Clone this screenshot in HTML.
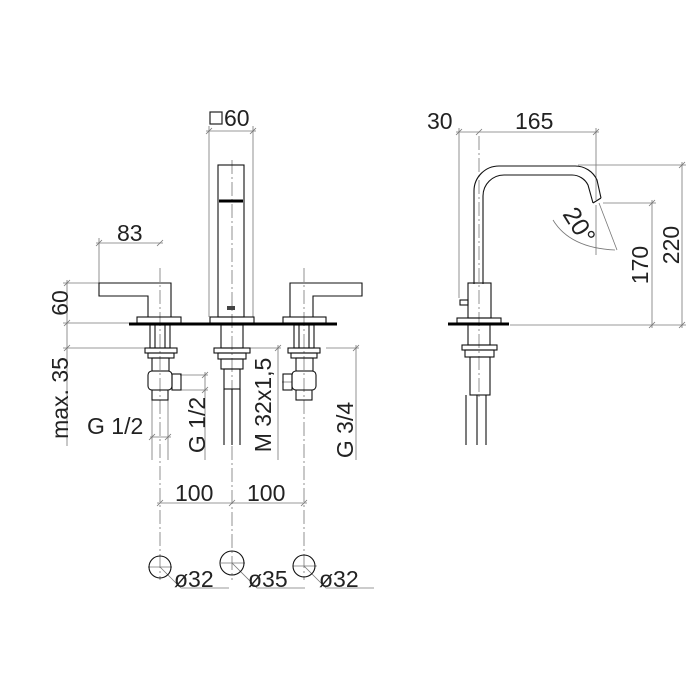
<!DOCTYPE html>
<html><head><meta charset="utf-8"><style>
html,body{margin:0;padding:0;background:#fff;}
svg{display:block}
text{font-family:"Liberation Sans",sans-serif;font-size:23px;fill:#222;}
</style></head><body>
<svg width="700" height="700" viewBox="0 0 700 700" xmlns="http://www.w3.org/2000/svg">
<g fill="none" stroke="#777" stroke-width="0.8">
 <line x1="96" y1="243" x2="163" y2="243"/>
 <line x1="99" y1="238" x2="99" y2="283"/>
 <line x1="206" y1="131" x2="256" y2="131"/>
 <line x1="209" y1="126" x2="209" y2="317"/>
 <line x1="253" y1="126" x2="253" y2="317"/>
 <line x1="67" y1="280" x2="67" y2="446"/>
 <line x1="63" y1="283" x2="99" y2="283"/>
 <line x1="63" y1="323" x2="129" y2="323"/>
 <line x1="63" y1="348" x2="146" y2="348"/>
 <line x1="150" y1="437" x2="171" y2="437"/>
 <line x1="152" y1="392" x2="152" y2="460"/>
 <line x1="168" y1="392" x2="168" y2="460"/>
 <line x1="180" y1="375" x2="208" y2="375"/>
 <line x1="180" y1="390" x2="208" y2="390"/>
 <line x1="205" y1="372" x2="205" y2="460"/>
 <line x1="250" y1="348" x2="281" y2="348"/>
 <line x1="278" y1="345" x2="278" y2="460"/>
 <line x1="326" y1="348" x2="359" y2="348"/>
 <line x1="356" y1="345" x2="356" y2="460"/>
 <line x1="282" y1="382" x2="292" y2="382"/>
 <line x1="157" y1="503" x2="307" y2="503"/>
 <path d="M96 246l6-6M157 246l6-6M206 134l6-6M250 134l6-6M64 286l6-6M64 326l6-6M64 351l6-6M149 440l6-6M165 440l6-6M202 378l6-6M202 393l6-6M275 351l6-6M353 351l6-6M157 506l6-6M229 506l6-6M301 506l6-6"/>
 <g stroke-dasharray="14,3,2,3">
  <line x1="160" y1="268" x2="160" y2="580"/>
  <line x1="232" y1="160" x2="232" y2="580"/>
  <line x1="304" y1="268" x2="304" y2="580"/>
  <line x1="479" y1="136" x2="479" y2="400"/>
 </g>
 <path d="M148 567h24M221 563h24M293 566h24"/>
 <path d="M160 567l21 21h48M232 563l25 25h48M304 566l22 22h48"/>
 <line x1="456" y1="132" x2="599" y2="132"/>
 <line x1="459" y1="128" x2="459" y2="298"/>
 <line x1="596" y1="128" x2="596" y2="200"/>
 <path d="M456 135l6-6M476 135l6-6M593 135l6-6"/>
 <line x1="603" y1="203" x2="656" y2="203"/>
 <line x1="578" y1="165" x2="686" y2="165"/>
 <line x1="510" y1="325" x2="686" y2="325"/>
 <line x1="652" y1="200" x2="652" y2="328"/>
 <line x1="682" y1="162" x2="682" y2="328"/>
 <path d="M649 206l6-6M649 328l6-6M679 168l6-6M679 328l6-6"/>
 <line x1="596" y1="205" x2="596" y2="255"/>
 <line x1="599" y1="203" x2="617" y2="250"/>
 <path d="M553 220 Q570 248 615 250"/>
</g>
<g fill="none" stroke="#111" stroke-width="1.1">
 <circle cx="160" cy="567" r="11"/>
 <circle cx="232" cy="563" r="12"/>
 <circle cx="304" cy="566" r="11"/>
 <rect x="218" y="165" width="26" height="152"/>
 <rect x="210" y="317" width="44" height="6"/>
 <path d="M99 283h72v34h-23v-21h-49z"/>
 <rect x="137" y="317" width="44" height="6"/>
 <path d="M364 283h-72v34h23v-21h49z" transform="translate(-2,0)"/>
 <rect x="283" y="317" width="43" height="6"/>
 <rect x="150" y="325" width="20" height="23"/>
 <line x1="155" y1="325" x2="155" y2="348"/><line x1="165" y1="325" x2="165" y2="348"/>
 <rect x="145" y="348" width="32" height="5"/><rect x="148" y="353" width="26" height="5"/>
 <rect x="152" y="358" width="17" height="13"/>
 <rect x="148" y="371" width="24" height="19" rx="4"/>
 <rect x="172" y="374" width="9" height="16"/>
 <rect x="152" y="390" width="16" height="10"/>
 <rect x="294" y="325" width="20" height="23"/>
 <line x1="299" y1="325" x2="299" y2="348"/><line x1="309" y1="325" x2="309" y2="348"/>
 <rect x="288" y="348" width="32" height="5"/><rect x="291" y="353" width="26" height="5"/>
 <rect x="296" y="358" width="17" height="13"/>
 <rect x="292" y="371" width="24" height="19" rx="4"/>
 <rect x="283" y="374" width="9" height="16"/>
 <rect x="296" y="390" width="16" height="10"/>
 <rect x="221" y="325" width="22" height="23"/>
 <rect x="214" y="348" width="36" height="5"/><rect x="218" y="353" width="28" height="6"/>
 <rect x="221" y="359" width="22" height="10"/>
 <rect x="224" y="369" width="16" height="20"/>
 <path d="M224 389v56M232 389v56M240 389v56"/>
 <path d="M474 284V191a25 25 0 0 1 25-25h76a24 24 0 0 1 22 14l4 18"/>
 <path d="M483 284V196a21 21 0 0 1 21-21h68a18 18 0 0 1 16 10l5 18"/>
 <line x1="593" y1="203" x2="601" y2="198"/>
 <rect x="468" y="283" width="23" height="35"/>
 <rect x="460" y="300" width="8" height="5"/>
 <rect x="457" y="318" width="44" height="5"/>
 <rect x="468" y="325" width="22" height="20"/>
 <rect x="462" y="345" width="35" height="5"/><rect x="465" y="350" width="29" height="7"/>
 <rect x="470" y="357" width="20" height="38"/>
 <path d="M466 395v50M477 395v50M486 395v50"/>
</g>
<g stroke="#000" stroke-width="3">
 <line x1="129" y1="324" x2="337" y2="324"/>
 <line x1="448" y1="324" x2="509" y2="324"/>
 <line x1="219" y1="201" x2="243" y2="201"/>
</g>
<rect x="227" y="306" width="8" height="4" fill="#444"/>
<rect x="210" y="112" width="12" height="12" fill="none" stroke="#222" stroke-width="1.2"/>
<text x="224" y="126">60</text>
<text x="117" y="241">83</text>
<text x="427" y="129">30</text>
<text x="515" y="129">165</text>
<text x="175" y="501">100</text>
<text x="247" y="501">100</text>
<text x="174" y="587">ø32</text>
<text x="248" y="587">ø35</text>
<text x="319" y="587">ø32</text>
<text x="87" y="434">G 1/2</text>
<text transform="translate(68,303) rotate(-90)" text-anchor="middle">60</text>
<text transform="translate(68,398) rotate(-90)" text-anchor="middle">max. 35</text>
<text transform="translate(205,425) rotate(-90)" text-anchor="middle">G 1/2</text>
<text transform="translate(271,405) rotate(-90)" text-anchor="middle">M 32x1,5</text>
<text transform="translate(353,430) rotate(-90)" text-anchor="middle">G 3/4</text>
<text transform="translate(648,265) rotate(-90)" text-anchor="middle">170</text>
<text transform="translate(679,245) rotate(-90)" text-anchor="middle">220</text>
<text transform="translate(572,230) rotate(58)" text-anchor="middle" style="font-size:25px">20°</text>
</svg>
</body></html>
